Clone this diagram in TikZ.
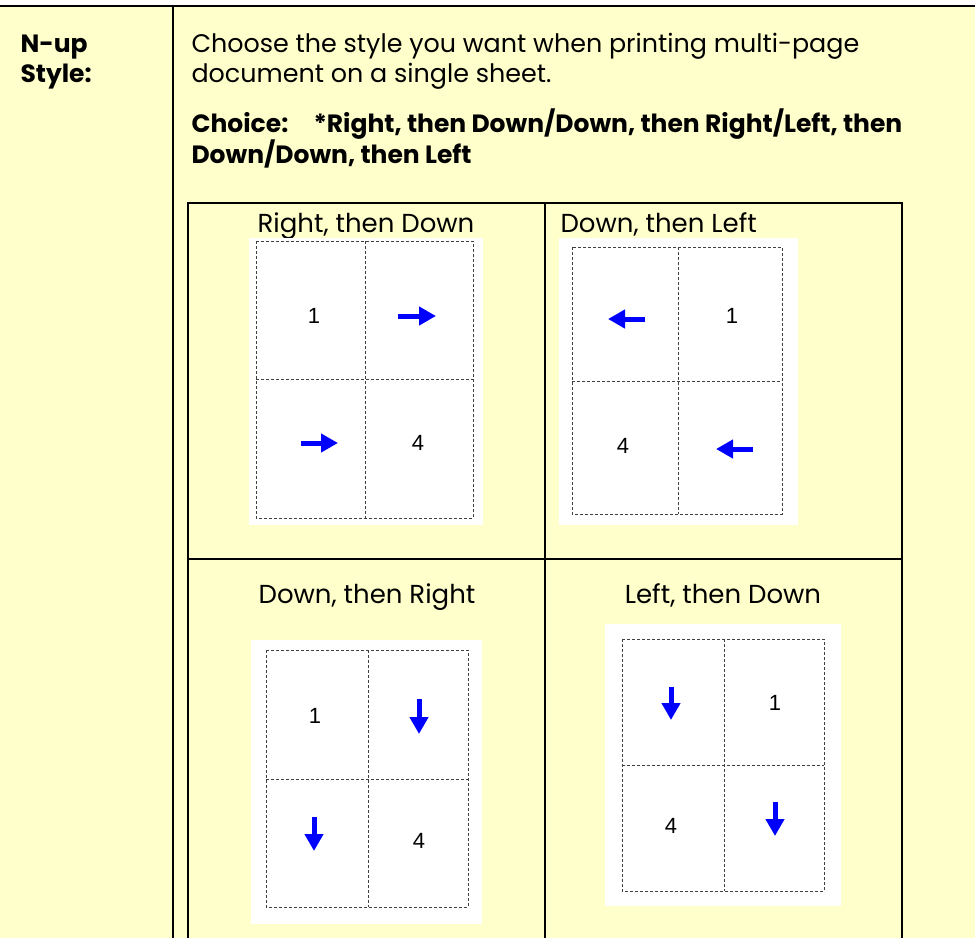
\documentclass[tikz,border=0pt]{standalone}
\usepackage{fontspec}
\setmainfont{Poppins}
\newfontfamily\digitfont{Liberation Sans}
\usetikzlibrary{arrows.meta}
\definecolor{notebg}{HTML}{FFFFCC}
\definecolor{flowblue}{HTML}{0000FF}

\begin{document}
\begin{tikzpicture}[x=1pt,y=-1pt,
  rule/.style={line width=2pt},
  fold/.style={dash pattern=on 3pt off 2pt,line width=0.8pt,black!75},
  flow/.style={flowblue,line width=5pt,-{Triangle[length=17pt,width=18pt]}},
  num/.style={font=\digitfont\fontsize{22}{26}\selectfont},
  body/.style={anchor=base west,font=\fontsize{25.4}{30}\selectfont},
  bodyb/.style={anchor=base west,font=\bfseries\fontsize{25}{30}\selectfont},
  title/.style={anchor=base,font=\fontsize{26}{30}\selectfont}]
  \useasboundingbox (0,0) rectangle (975,938);
  \fill[notebg] (0,6) rectangle (975,938);
  % outer rules
  \coordinate (T0) at (0,6);
  \coordinate (T1) at (975,6);
  \coordinate (C0) at (173,6);
  \coordinate (C1) at (173,938);
  \draw[rule] (T0)--(T1);
  \draw[rule] (C0)--(C1);
  % text
  \node[bodyb] (nup) at (17,52) {N-up};
  \node[bodyb] (sty) at (17,82) {Style:};
  \node[body] (l1) at (188,52) {Choose the style you want when printing multi-page};
  \node[body] (l2) at (188,82) {document on a single sheet.};
  \node[bodyb] (ch) at (188,132) {Choice:};
  \node[bodyb] (c1) at (310,132) {*Right, then Down/Down, then Right/Left, then};
  \node[bodyb] (c2) at (188,163) {Down/Down, then Left};
  % inner table
  \coordinate (A) at (188,203);
  \coordinate (B) at (902,203);
  \draw[rule] (188,938)--(A)--(B)--(902,938);
  \draw[rule] (545,203)--(545,938);
  \draw[rule] (188,559)--(902,559);
  % right, then down
  \node[title] (t1) at (366,232) {Right, then Down};
  \fill[white] (249,238) rectangle (483,525);
  \draw[fold] (256,241) rectangle (473,518);
  \draw[fold] (365,241)--(365,518);
  \draw[fold] (256,379)--(473,379);
  \node[num] (p1a) at (314,316) {1};
  \node[num] (p1b) at (418,443) {4};
  \draw[flow] (398,316)--(436,316);
  \draw[flow] (301,443)--(338,443);
  % down, then left
  \node[title,anchor=base west] (t2) at (557,232) {Down, then Left};
  \fill[white] (559,238) rectangle (798,525);
  \draw[fold] (572,247) rectangle (782,514);
  \draw[fold] (678,247)--(678,514);
  \draw[fold] (572,381)--(782,381);
  \node[num] (p2a) at (732,316) {1};
  \node[num] (p2b) at (623,446) {4};
  \draw[flow] (645,319)--(608,319);
  \draw[flow] (753,449)--(716,449);
  % down, then right
  \node[title] (t3) at (367,603) {Down, then Right};
  \fill[white] (251,640) rectangle (482,924);
  \draw[fold] (266,650) rectangle (468,907);
  \draw[fold] (368,650)--(368,907);
  \draw[fold] (266,779)--(468,779);
  \node[num] (p3a) at (315,716) {1};
  \node[num] (p3b) at (419,841) {4};
  \draw[flow] (419,699)--(419,734);
  \draw[flow] (314,817)--(314,851);
  % left, then down
  \node[title] (t4) at (723,603) {Left, then Down};
  \fill[white] (605,624) rectangle (841,906);
  \draw[fold] (622,639) rectangle (824,891);
  \draw[fold] (724,639)--(724,891);
  \draw[fold] (622,765)--(824,765);
  \node[num] (p4a) at (775,703) {1};
  \node[num] (p4b) at (671,826) {4};
  \draw[flow] (671,687)--(671,720);
  \draw[flow] (775,802)--(775,836);
\end{tikzpicture}
\end{document}
